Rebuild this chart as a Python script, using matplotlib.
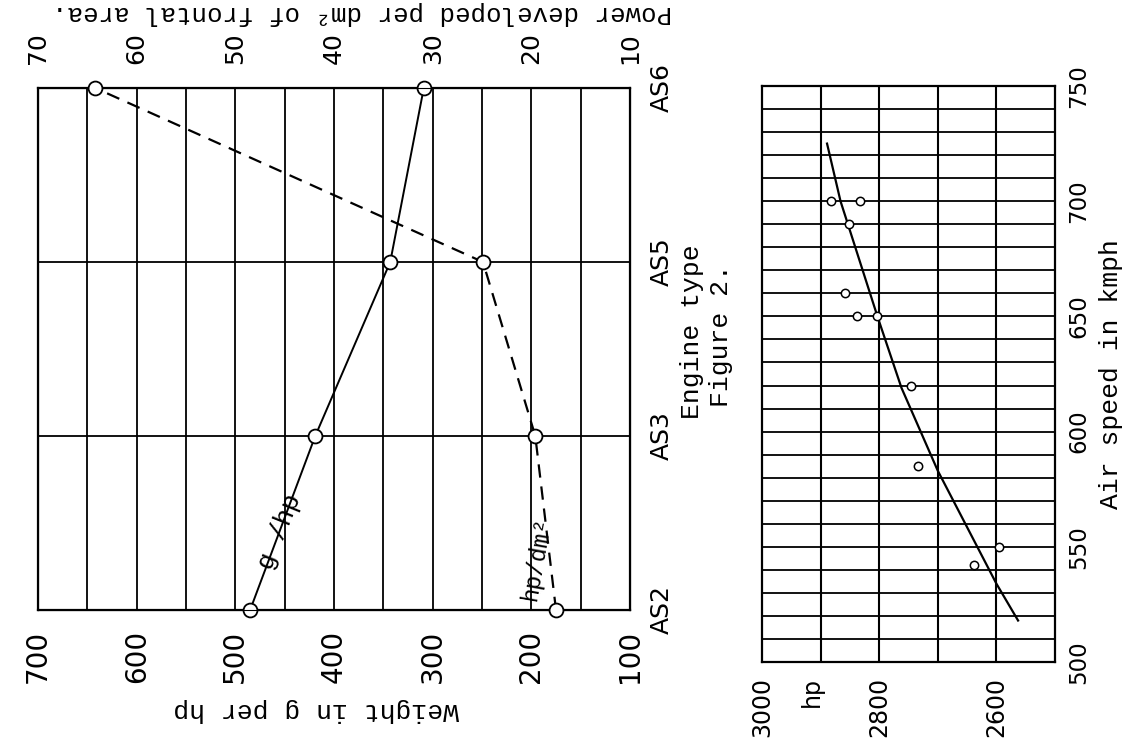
import numpy as np
import matplotlib
matplotlib.use("Agg")
import matplotlib.pyplot as plt

# 1. Data
ENGINES        = ["AS2", "AS3", "AS5", "AS6"]
WEIGHT_G_HP    = [485, 419, 343, 309]        # weight in g per hp
POWER_HP_DM2   = [17.5, 19.6, 24.9, 64.2]    # power per dm2 of frontal area

WEIGHT_TICKS   = [700, 600, 500, 400, 300, 200, 100]
POWER_TICKS    = [70, 60, 50, 40, 30, 20, 10]

SPEED_POINTS   = [700, 700, 690, 660, 650, 650, 620, 585, 550, 542]
HP_POINTS      = [2882, 2833, 2851, 2858, 2838, 2803, 2745, 2734, 2595, 2638]
SPEED_CURVE    = [518, 534, 583, 619, 650, 700, 725]
HP_CURVE       = [2563, 2600, 2700, 2762, 2803, 2866, 2889]

HP_TICKS       = [3000, 2915, 2800, 2600]
HP_TICK_LABELS = ["3000", "hp", "2800", "2600"]
SPEED_TICKS    = [500, 550, 600, 650, 700, 750]

W, H = 1129, 745
TYPE_FONT = "Liberation Mono"
NUM_FONT = "DejaVu Sans"


def rect(x0, y0, x1, y1):
    # pixel box -> figure fraction
    return [x0 / W, 1 - y1 / H, (x1 - x0) / W, (y1 - y0) / H]


def plot_engines(fig):
    ax = fig.add_axes(rect(38, 88, 630, 610))
    pos = np.arange(len(ENGINES))
    ax.set_xlim(700, 100)
    ax.set_ylim(pos[0], pos[-1])

    for v in np.arange(150, 700, 50):
        ax.axvline(v, color="black", lw=1.3)
    for p in pos[1:-1]:
        ax.axhline(p, color="black", lw=1.3)

    ax.plot(WEIGHT_G_HP, pos, color="black", lw=1.4, marker="o", ms=10,
            mfc="white", mec="black", mew=1.3, clip_on=False, zorder=5)

    ax.set_xticks(WEIGHT_TICKS)
    ax.set_xticklabels([str(t) for t in WEIGHT_TICKS], rotation=90,
                       fontsize=20, family=NUM_FONT)
    ax.tick_params(axis="x", length=0, pad=14)

    ax.yaxis.tick_right()
    ax.set_yticks(pos)
    ax.set_yticklabels(ENGINES, rotation=90, va="center", fontsize=18, family=NUM_FONT)
    ax.tick_params(axis="y", length=0, pad=14)

    for s in ax.spines.values():
        s.set_linewidth(1.6)

    # power axis along the top
    top = ax.twiny()
    top.set_xlim(70, 10)
    top.plot(POWER_HP_DM2, pos, color="black", lw=1.6, ls=(0, (6, 4)), marker="o",
             ms=10, mfc="white", mec="black", mew=1.3, clip_on=False, zorder=5)
    top.set_xticks(POWER_TICKS)
    top.set_xticklabels([str(t) for t in POWER_TICKS], rotation=90,
                        fontsize=18, family=NUM_FONT)
    top.tick_params(axis="x", length=0, pad=17)

    ax.text(455, 0.45, "g /hp", rotation=68, ha="center", va="center",
            fontsize=19, family=TYPE_FONT)
    top.text(19.4, 0.3, "hp/dm²", rotation=80, ha="center", va="center",
             fontsize=17, family=TYPE_FONT)
    return ax


def plot_speed(fig):
    ax = fig.add_axes(rect(762, 86, 1055, 662))
    ax.set_xlim(3000, 2500)
    ax.set_ylim(500, 750)

    for v in np.arange(2600, 3000, 100):
        ax.axvline(v, color="black", lw=1.5)
    for v in np.arange(510, 750, 10):
        ax.axhline(v, color="black", lw=1.3)

    ax.plot(HP_CURVE, SPEED_CURVE, color="black", lw=1.6, zorder=4)
    ax.plot(HP_POINTS, SPEED_POINTS, ls="none", marker="o", ms=6,
            mfc="white", mec="black", mew=1.1, zorder=5)

    ax.set_xticks(HP_TICKS)
    ax.set_xticklabels(HP_TICK_LABELS, rotation=90, fontsize=17, family=NUM_FONT)
    ax.tick_params(axis="x", length=0, pad=11)

    ax.yaxis.tick_right()
    ax.set_yticks(SPEED_TICKS)
    ax.set_yticklabels([str(t) for t in SPEED_TICKS], rotation=90, va="center",
                       fontsize=16.5, family=NUM_FONT)
    ax.tick_params(axis="y", length=0, pad=9)
    ax.yaxis.set_label_position("right")
    ax.set_ylabel("Air speed in kmph", rotation=90, fontsize=19,
                  family=TYPE_FONT, labelpad=6)

    for s in ax.spines.values():
        s.set_linewidth(1.6)
    return ax


def main():
    fig = plt.figure(figsize=(W / 100, H / 100), dpi=100)
    plot_engines(fig)
    plot_speed(fig)

    fig.text(362 / W, 1 - 13 / H, "Power developed per dm² of frontal area.",
             rotation=180, ha="center", va="center", fontsize=18.5, family=TYPE_FONT)
    fig.text(316 / W, 1 - 710 / H, "Weight in g per hp", rotation=180,
             ha="center", va="center", fontsize=19, family=TYPE_FONT)
    fig.text(692 / W, 1 - 332 / H, "Engine type", rotation=90,
             ha="center", va="center", fontsize=19, family=TYPE_FONT)
    fig.text(721 / W, 1 - 336 / H, "Figure 2.", rotation=90,
             ha="center", va="center", fontsize=19, family=TYPE_FONT)

    fig.savefig("out.png", dpi=100, facecolor="white")


if __name__ == "__main__":
    main()
